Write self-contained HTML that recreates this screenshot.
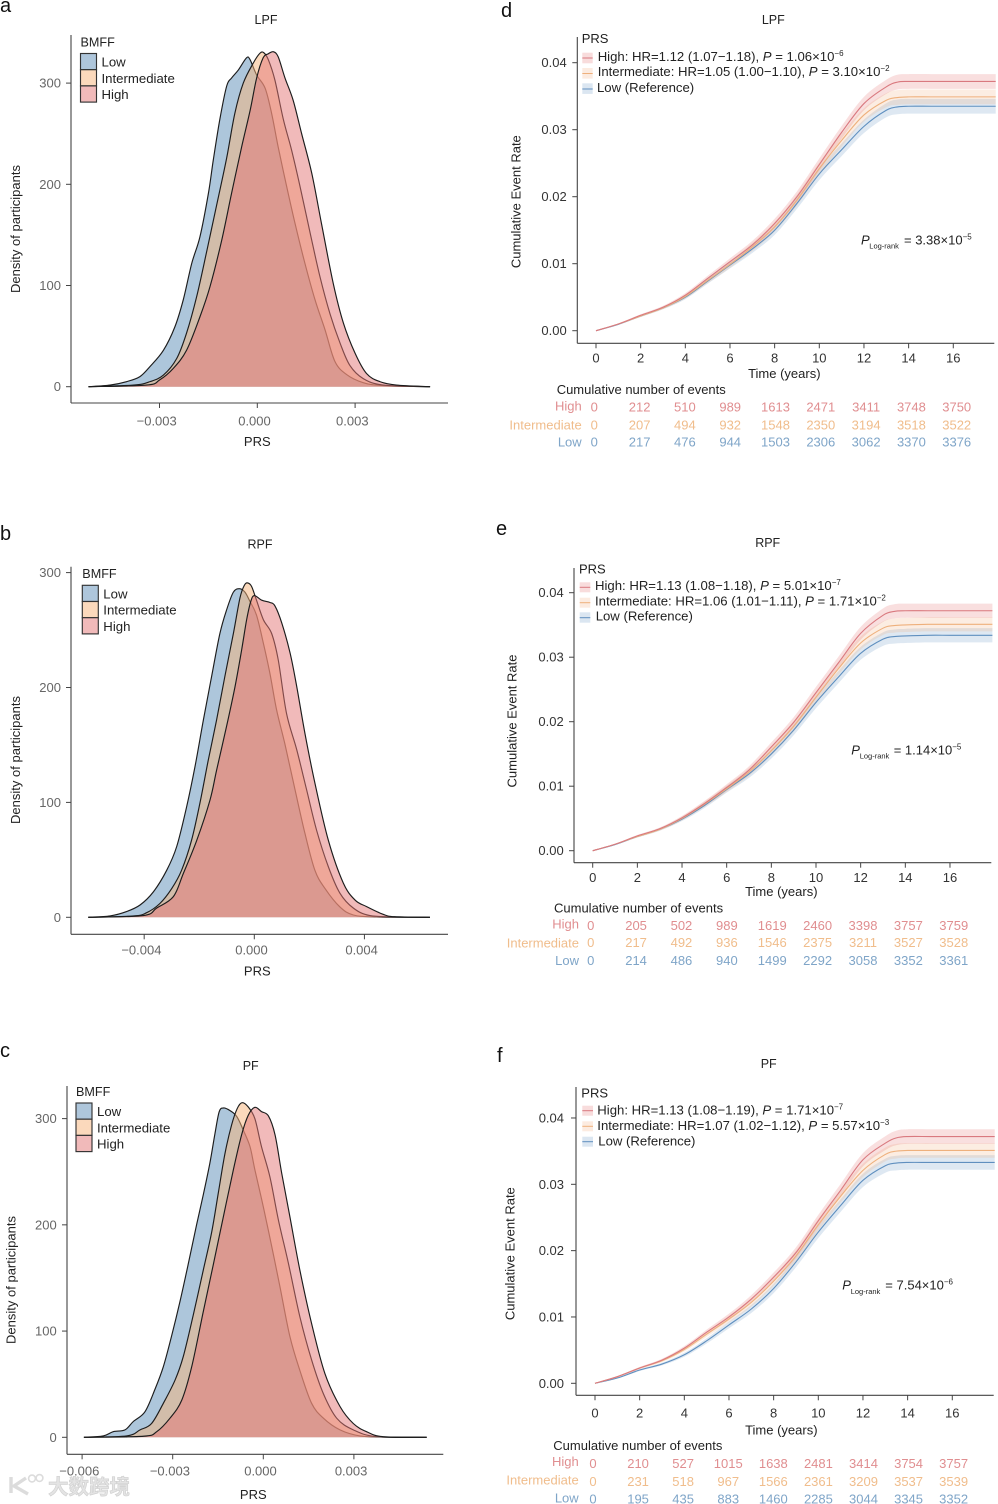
<!DOCTYPE html>
<html lang="en">
<head>
<meta charset="utf-8">
<title>PRS density and cumulative event rate</title>
<style>
html,body{margin:0;padding:0;background:#fff;width:998px;height:1504px;overflow:hidden}
svg{display:block;filter:blur(.35px)}
text{font-family:"Liberation Sans",sans-serif;font-size:13px;fill:#222}
.panel{font-size:20px;fill:#111}
.title{font-size:12.5px;text-anchor:middle}
.ax{font-size:13px}
.leg{font-size:13.15px}
.sub{font-size:7.5px}
.sup{font-size:8px}
.hi{fill:#e08e90}.in{fill:#f0bd8c}.lo{fill:#7fa5c8}
.wm{font-family:"Liberation Sans","Noto Sans CJK SC",sans-serif;font-size:20.5px;font-weight:700;fill:#e4e4e4;stroke:#d2d2d2;stroke-width:.7}
</style>
</head>
<body>
<svg id="figure" xmlns="http://www.w3.org/2000/svg" width="998" height="1504" viewBox="0 0 998 1504">
  <rect width="998" height="1504" fill="#fff"/>

  <!-- Panel a -->
  <g id="pa">
    <text class="panel" x="0" y="12">a</text>
    <text class="title" x="266" y="24">LPF</text>
    <text class="ax" transform="translate(20,229) rotate(-90)" text-anchor="middle">Density of participants</text>
    <text class="ax" x="257.3" y="446" text-anchor="middle">PRS</text>
  </g>
  <!-- Panel b -->
  <g id="pb">
    <text class="panel" x="0" y="540">b</text>
    <text class="title" x="260" y="548.7">RPF</text>
    <text class="ax" transform="translate(20,760) rotate(-90)" text-anchor="middle">Density of participants</text>
    <text class="ax" x="257.3" y="975.3" text-anchor="middle">PRS</text>
  </g>
  <!-- Panel c -->
  <g id="pc">
    <text class="panel" x="0" y="1057">c</text>
    <text class="title" x="250.7" y="1070">PF</text>
    <text class="ax" transform="translate(15.7,1280) rotate(-90)" text-anchor="middle">Density of participants</text>
    <text class="ax" x="253.3" y="1499" text-anchor="middle">PRS</text>
  </g>

  <!-- Panel d -->
  <g id="pd">
    <text class="panel" x="501" y="17">d</text>
    <text class="title" x="773.3" y="24">LPF</text>
    <text transform="translate(520.7,201.7) rotate(-90)" text-anchor="middle">Cumulative Event Rate</text>
    <text x="784.3" y="378" text-anchor="middle">Time (years)</text>
    <text x="581.7" y="43">PRS</text>
    <rect x="582.3" y="52.7" width="10.4" height="10.6" fill="#e57373" fill-opacity=".25"/>
    <line x1="582.3" x2="592.7" y1="58" y2="58" stroke="#d9797f"/>
    <rect x="582.3" y="68" width="10.4" height="10.6" fill="#f4b183" fill-opacity=".25"/>
    <line x1="582.3" x2="592.7" y1="73.5" y2="73.5" stroke="#eeb07c"/>
    <rect x="582.3" y="83.3" width="10.4" height="10.6" fill="#6f9bc8" fill-opacity=".25"/>
    <line x1="582.3" x2="592.7" y1="89" y2="89" stroke="#5f8fbf"/>
    <text class="leg" x="597.7" y="61">High: HR=1.12 (1.07−1.18), <tspan font-style="italic">P</tspan> = 1.06×10<tspan class="sup" dy="-5">−6</tspan></text>
    <text class="leg" x="597.7" y="76">Intermediate: HR=1.05 (1.00−1.10), <tspan font-style="italic">P</tspan> = 3.10×10<tspan class="sup" dy="-5">−2</tspan></text>
    <text class="leg" x="597" y="92">Low (Reference)</text>
    <text x="861" y="244.3"><tspan font-style="italic">P</tspan><tspan class="sub" x="869.3" y="248.7">Log-rank</tspan><tspan x="904" y="244.3">= 3.38×10</tspan><tspan class="sup" dy="-5">−5</tspan></text>
    <text x="556.7" y="394">Cumulative number of events</text>
    <text class="hi" x="581.7" y="410.7" text-anchor="end">High</text>
    <text class="in" x="581.7" y="429.3" text-anchor="end">Intermediate</text>
    <text class="lo" x="581.7" y="446.7" text-anchor="end">Low</text>
  </g>
  <!-- Panel e -->
  <g id="pe">
    <text class="panel" x="496" y="535">e</text>
    <text class="title" x="767.7" y="547">RPF</text>
    <text transform="translate(516.3,721) rotate(-90)" text-anchor="middle">Cumulative Event Rate</text>
    <text x="781.3" y="896" text-anchor="middle">Time (years)</text>
    <text x="579" y="573.3">PRS</text>
    <rect x="579.7" y="582.3" width="10.6" height="10" fill="#e57373" fill-opacity=".25"/>
    <line x1="579.7" x2="590.3" y1="587.3" y2="587.3" stroke="#d9797f"/>
    <rect x="579.7" y="597.7" width="10.6" height="10" fill="#f4b183" fill-opacity=".25"/>
    <line x1="579.7" x2="590.3" y1="602.7" y2="602.7" stroke="#eeb07c"/>
    <rect x="579.7" y="612.3" width="10.6" height="10.4" fill="#6f9bc8" fill-opacity=".25"/>
    <line x1="579.7" x2="590.3" y1="617.7" y2="617.7" stroke="#5f8fbf"/>
    <text class="leg" x="595" y="590">High: HR=1.13 (1.08−1.18), <tspan font-style="italic">P</tspan> = 5.01×10<tspan class="sup" dy="-5">−7</tspan></text>
    <text class="leg" x="595" y="605.3">Intermediate: HR=1.06 (1.01−1.11), <tspan font-style="italic">P</tspan> = 1.71×10<tspan class="sup" dy="-5">−2</tspan></text>
    <text class="leg" x="595.7" y="620.3">Low (Reference)</text>
    <text x="851.3" y="754.3"><tspan font-style="italic">P</tspan><tspan class="sub" x="859.7" y="758.7">Log-rank</tspan><tspan x="893.7" y="754.3">= 1.14×10</tspan><tspan class="sup" dy="-5">−5</tspan></text>
    <text x="554" y="912.7">Cumulative number of events</text>
    <text class="hi" x="579" y="928.7" text-anchor="end">High</text>
    <text class="in" x="579" y="947.7" text-anchor="end">Intermediate</text>
    <text class="lo" x="579" y="965" text-anchor="end">Low</text>
  </g>
  <!-- Panel f -->
  <g id="pf">
    <text class="panel" x="497" y="1062">f</text>
    <text class="title" x="768.7" y="1068">PF</text>
    <text transform="translate(514.7,1253.7) rotate(-90)" text-anchor="middle">Cumulative Event Rate</text>
    <text x="781.3" y="1434.7" text-anchor="middle">Time (years)</text>
    <text x="581.3" y="1097.3">PRS</text>
    <rect x="582.3" y="1105.7" width="10.7" height="10" fill="#e57373" fill-opacity=".25"/>
    <line x1="582.3" x2="593" y1="1110.7" y2="1110.7" stroke="#d9797f"/>
    <rect x="582.3" y="1121.3" width="10.7" height="10" fill="#f4b183" fill-opacity=".25"/>
    <line x1="582.3" x2="593" y1="1126.3" y2="1126.3" stroke="#eeb07c"/>
    <rect x="582.3" y="1136.7" width="10.7" height="10" fill="#6f9bc8" fill-opacity=".25"/>
    <line x1="582.3" x2="593" y1="1141.7" y2="1141.7" stroke="#5f8fbf"/>
    <text class="leg" x="597.3" y="1114.3">High: HR=1.13 (1.08−1.19), <tspan font-style="italic">P</tspan> = 1.71×10<tspan class="sup" dy="-5">−7</tspan></text>
    <text class="leg" x="597.3" y="1130">Intermediate: HR=1.07 (1.02−1.12), <tspan font-style="italic">P</tspan> = 5.57×10<tspan class="sup" dy="-5">−3</tspan></text>
    <text class="leg" x="598.3" y="1145.3">Low (Reference)</text>
    <text x="842.3" y="1289.3"><tspan font-style="italic">P</tspan><tspan class="sub" x="850.7" y="1294">Log-rank</tspan><tspan x="885.3" y="1289.3">= 7.54×10</tspan><tspan class="sup" dy="-5">−6</tspan></text>
    <text x="553.3" y="1450">Cumulative number of events</text>
    <text class="hi" x="578.7" y="1466" text-anchor="end">High</text>
    <text class="in" x="578.7" y="1484.7" text-anchor="end">Intermediate</text>
    <text class="lo" x="578.7" y="1502.7" text-anchor="end">Low</text>
  </g>

  <g id="watermark">
    <path d="M11 1477 L11 1493 M26 1478 L14 1486 L28 1494" fill="none" stroke="#dcdcdc" stroke-width="3.4"/>
    <circle cx="32" cy="1478.5" r="3.4" fill="none" stroke="#dcdcdc" stroke-width="1.6"/>
    <circle cx="39.5" cy="1478" r="3.4" fill="none" stroke="#dcdcdc" stroke-width="1.6"/>
    <text class="wm" x="48" y="1494">大数跨境</text>
  </g>
</svg>

<script>
// ---- Density charts: PRS in units of 0.001, density of participants ----
const lowPrsA=[-5.18,-4.52,-4.01,-3.6,-3.29,-2.88,-2.53,-2.27,-2.01,-1.76,-1.5,-1.35,-1.15,-0.94,-0.79,-0.58,-0.33,-0.22,-0.02,0.24,0.44,0.64,0.9,1.16,1.46,1.77,2.08,2.38,2.74,3.25,3.87,5.3];
const lowDensA=[0,1.6,5,10,20,36,59,86,122,148,191,224,264,297,305,313,325,323,308,295,270,237,198,161,122,86,56,25,12,4,1,0];
const intPrsA=[-5.18,-3.8,-3.29,-2.88,-2.47,-2.17,-1.86,-1.55,-1.25,-0.94,-0.69,-0.43,-0.12,0.08,0.2,0.34,0.54,0.8,1.05,1.31,1.62,1.92,2.23,2.54,2.84,3.25,3.87,5.3];
const intDensA=[0,1.6,5,11.5,28,53,89,134,179,226,270,300,320,329.5,330,323,303,264,234,198,152,109,72,43,21,8,1.6,0];
const highPrsA=[-5.18,-3.4,-3,-2.58,-2.17,-1.76,-1.45,-1.09,-0.79,-0.48,-0.22,-0.02,0.18,0.34,0.49,0.64,0.85,1.1,1.36,1.67,1.97,2.33,2.64,3,3.35,3.76,4.27,5.3];
const highDensA=[0,1.6,6.6,18,36,69,99,145,191,237,273,305,325,329,331,326,305,283,250,211,161,102,63,33,13,5,1.6,0];

const lowPrsB=[-6.03,-5.24,-4.64,-4.15,-3.67,-3.18,-2.82,-2.46,-2.15,-1.85,-1.55,-1.25,-1,-0.76,-0.54,-0.34,-0.16,0.08,0.33,0.57,0.81,1.11,1.48,1.84,2.2,2.57,3.11,3.6,4.44,6.38];
const lowDensB=[0,1.2,5,10.7,22,41,61.5,96,131.7,171.7,209.7,247,268,283,286,283,275,263,238.5,212,180.5,151,111,73,41,25,9,2,0.3,0];
const intPrsB=[-6.03,-4.39,-3.91,-3.43,-3,-2.64,-2.28,-1.97,-1.67,-1.37,-1.07,-0.76,-0.52,-0.36,-0.24,-0.1,0.08,0.33,0.63,0.87,1.17,1.54,1.9,2.26,2.69,3.11,3.6,4.2,5.3,6.38];
const intDensB=[0,1.2,4,12,25,41,67,100,137,171.7,209.5,247,278,289,291,288,276,259,247,224,177.5,146,111,76,44,21,8,1.5,0.3,0];
const highPrsB=[-6.03,-4.03,-3.55,-2.94,-2.58,-2.09,-1.61,-1.37,-1,-0.7,-0.46,-0.28,-0.13,0,0.27,0.57,0.75,1,1.3,1.54,1.84,2.2,2.69,3.23,3.66,4.08,4.68,5.1,6.38];
const highDensB=[0,1.5,8,18,38,67,102,128,167,200.8,232.7,258.8,274.7,280,276,274,271,256,230,201,160,117,67,30,15,9.3,2.6,0.5,0];

const lowPrsC=[-5.94,-5.3,-4.97,-4.58,-4.3,-3.92,-3.59,-3.31,-3.04,-2.76,-2.48,-2.21,-1.99,-1.77,-1.6,-1.46,-1.32,-1.1,-0.88,-0.66,-0.44,-0.28,0,0.28,0.55,0.88,1.21,1.6,1.99,2.54,3.2,3.97,5.41];
const lowDensC=[0,1.3,5.3,7,15,24,45,66.5,95,127.7,163.8,200,228,258,286,306.5,310,307.5,302,289,273.6,252,217,179.5,142,95,63,32,18,7,1.3,0.3,0];
const intPrsC=[-5.94,-4.53,-4.08,-3.7,-3.31,-2.92,-2.65,-2.32,-1.99,-1.71,-1.49,-1.27,-1.05,-0.86,-0.7,-0.5,-0.28,-0.06,0.22,0.5,0.83,1.21,1.6,1.99,2.43,2.98,3.75,5.41];
const intDensC=[0,1.3,7,13,32,54,76,115,157,193,230,267,294,309.7,315,311,300,273.6,245,204.6,164,113.6,72.8,41,18,7,0.6,0];
const highPrsC=[-5.94,-3.97,-3.53,-3.09,-2.7,-2.37,-1.99,-1.66,-1.32,-0.99,-0.72,-0.5,-0.28,-0.06,0.17,0.39,0.61,0.88,1.21,1.6,2.04,2.54,2.98,3.42,3.97,5.41];
const highDensC=[0,1,5.3,18,35,66.5,118,162,208,252,284.6,303,310.6,306.6,302.5,284.6,248.5,207.7,157.5,107,60,29,13,5.3,0.6,0];

const densityTicksA=[0,100,200,300];
const densityTicksB=[0,100,200,300];
const densityTicksC=[0,100,200,300];
const prsTicksA=[-0.003,0,0.003];
const prsTickLabelsA=["−0.003","0.000","0.003"];
const prsTicksB=[-0.004,0,0.004];
const prsTickLabelsB=["−0.004","0.000","0.004"];
const prsTicksC=[-0.006,-0.003,0,0.003];
const prsTickLabelsC=["−0.006","−0.003","0.000","0.003"];
const groupNames=["Low","Intermediate","High"];

// ---- Cumulative event rate charts ----
const timeYears=[0,1,2,3,4,5,6,7,8,9,10,11,12,13,13.5,14,15,16,17,17.9];
const ciHalfWidth=[0,.00008,.00015,.0002,.0003,.0004,.0005,.0006,.0007,.0008,.0009,.00095,.001,.00105,.0011,.0011,.0011,.0011,.0011,.0011];
const rateHighD=[0,.001,.0023,.0035,.0053,.0078,.0103,.0128,.016,.02,.0248,.0296,.0339,.0364,.0371,.0372,.0372,.0372,.0372,.0372];
const rateIntD=[0,.001,.0022,.0034,.0051,.0075,.0099,.0125,.0155,.0195,.0242,.0284,.0322,.0344,.0348,.0349,.0349,.0349,.0349,.0349];
const rateLowD=[0,.00095,.0022,.0034,.005,.0074,.0098,.0122,.015,.019,.0234,.027,.0305,.0329,.0334,.0335,.0335,.0335,.0335,.0335];
const rateHighE=[0,.001,.0023,.0034,.0051,.0073,.0098,.0125,.0161,.0199,.0245,.0291,.0337,.0365,.0371,.0372,.0372,.0372,.0372,.0372];
const rateIntE=[0,.001,.0022,.0033,.005,.0072,.0096,.0122,.0155,.0193,.0238,.0282,.0322,.0345,.0349,.035,.0351,.0351,.0351,.0351];
const rateLowE=[0,.00095,.0022,.0033,.0049,.007,.0095,.0119,.015,.0187,.023,.0269,.0306,.0328,.0332,.0333,.0334,.0334,.0334,.0334];
const rateHighF=[0,.001,.0023,.0035,.0053,.0077,.01,.0127,.016,.0197,.0245,.0291,.0337,.0362,.037,.0372,.0372,.0372,.0372,.0372];
const rateIntF=[0,.001,.0023,.0034,.0051,.0074,.0097,.0122,.0154,.0192,.0239,.0282,.0321,.0345,.035,.0351,.0351,.0351,.0351,.0351];
const rateLowF=[0,.0008,.002,.0029,.0043,.0064,.0088,.0112,.0143,.0183,.0228,.0268,.0306,.0328,.0332,.0333,.0333,.0333,.0333,.0333];
const rateTicks=[0,.01,.02,.03,.04];
const rateTickLabels=["0.00","0.01","0.02","0.03","0.04"];
const timeTicks=[0,2,4,6,8,10,12,14,16];
const timeTickLabels=["0","2","4","6","8","10","12","14","16"];
const eventsHighD=[0,212,510,989,1613,2471,3411,3748,3750];
const eventsIntD=[0,207,494,932,1548,2350,3194,3518,3522];
const eventsLowD=[0,217,476,944,1503,2306,3062,3370,3376];
const eventsHighE=[0,205,502,989,1619,2460,3398,3757,3759];
const eventsIntE=[0,217,492,936,1546,2375,3211,3527,3528];
const eventsLowE=[0,214,486,940,1499,2292,3058,3352,3361];
const eventsHighF=[0,210,527,1015,1638,2481,3414,3754,3757];
const eventsIntF=[0,231,518,967,1566,2361,3209,3537,3539];
const eventsLowF=[0,195,435,883,1460,2285,3044,3345,3352];

const NS="http://www.w3.org/2000/svg";
function mk(parent,tag,attrs,name,txt){
  const el=document.createElementNS(NS,tag);
  for(const k in attrs)el.setAttribute(k,attrs[k]);
  
  
  if(txt!==undefined)el.textContent=txt;
  parent.appendChild(el);
  return el;
}
function smooth(pts){
  let d="M"+pts[0][0].toFixed(2)+" "+pts[0][1].toFixed(2);
  for(let i=0;i<pts.length-1;i++){
    const p0=pts[i-1]||pts[i],p1=pts[i],p2=pts[i+1],p3=pts[i+2]||p2;
    const c1x=p1[0]+(p2[0]-p0[0])/6,c1y=p1[1]+(p2[1]-p0[1])/6;
    const c2x=p2[0]-(p3[0]-p1[0])/6,c2y=p2[1]-(p3[1]-p1[1])/6;
    d+="C"+c1x.toFixed(2)+" "+c1y.toFixed(2)+" "+c2x.toFixed(2)+" "+c2y.toFixed(2)+" "+p2[0].toFixed(2)+" "+p2[1].toFixed(2);
  }
  return d;
}
function axes(g,o,xt,xl,yt,yl,yScale,xScale,grey,tl,labelShift){
  mk(g,"line",{x1:o.axisX,x2:o.axisX,y1:o.top,y2:o.bottom,stroke:"#444","stroke-width":1.1},"y-axis-line");
  mk(g,"line",{x1:o.axisX,x2:o.right,y1:o.bottom,y2:o.bottom,stroke:"#444","stroke-width":1.1},"x-axis-line");
  yt.forEach((v,i)=>{
    const y=yScale(v);
    mk(g,"line",{x1:o.axisX-tl,x2:o.axisX,y1:y,y2:y,stroke:"#444","stroke-width":1},"y-tick");
    mk(g,"text",{x:o.yLabelRight,y:y+4.5,"text-anchor":"end",style:"fill:"+grey},"y-tick-label",yl[i]);
  });
  xt.forEach((v,i)=>{
    const x=xScale(v);
    mk(g,"line",{x1:x,x2:x,y1:o.bottom,y2:o.bottom+tl,stroke:"#444","stroke-width":1},"x-tick");
    mk(g,"text",{x:x+labelShift,y:o.xLabelBase,"text-anchor":"middle",style:"fill:"+grey},"x-tick-label",xl[i]);
  });
}
const densityFill=["#5b8db8","#f7b379","#e37575"];
const densityKey=["#aec6db","#fbd9bc","#f1baba"];
function drawDensity(id,o,series,xt,xl,yt){
  const g=document.getElementById(id);
  const xScale=v=>o.x0+v*1000*o.pxPerMilli;
  const yScale=v=>o.y0-v*o.pxPerUnit;
  axes(g,o,xt,xl,yt,yt.map(String),yScale,xScale,"#666",5,-2.8);
  series.forEach((s,i)=>{
    const pts=s[0].map((p,j)=>[xScale(p/1000),yScale(s[1][j])]);
    const line=smooth(pts);
    const nm=groupNames[i].toLowerCase();
    mk(g,"path",{d:line+"L"+pts[pts.length-1][0].toFixed(2)+" "+o.y0+"L"+pts[0][0].toFixed(2)+" "+o.y0+"Z",fill:densityFill[i],"fill-opacity":.5,stroke:"none"},"density-area-"+nm);
    mk(g,"path",{d:line,fill:"none",stroke:"#1c1c1c","stroke-width":1.15},"density-line-"+nm);
  });
  mk(g,"text",{x:o.legX,y:o.legY-7.2,style:"font-size:12.6px"},"legend-title","BMFF");
  groupNames.forEach((n,i)=>{
    const y=o.legY+i*16.2;
    mk(g,"rect",{x:o.legX,y:y,width:16,height:16.2,fill:densityKey[i],stroke:"#333","stroke-width":1.15},"legend-key-"+n.toLowerCase());
    mk(g,"text",{x:o.legX+21,y:y+13.2,style:"font-size:13.2px"},"legend-entry-"+n.toLowerCase(),n);
  });
}
const kmLine=["#d9797f","#eeb07c","#5f8fbf"];
const kmBand=["#e57373","#f4b183","#6f9bc8"];
const kmText=["#e08e90","#f0bd8c","#7fa5c8"];
function drawKM(id,o,rates,tables){
  const g=document.getElementById(id);
  const xScale=v=>o.x0+v*22.33;
  const yScale=v=>o.y0-v*100*o.pxPerCenti;
  axes(g,o,timeTicks,timeTickLabels,rateTicks,rateTickLabels,yScale,xScale,"#333",5,0);
  const names=["high","intermediate","low"];
  [2,1,0].forEach(i=>{
    const r=rates[i];
    const up=timeYears.map((t,j)=>[xScale(t),yScale(r[j]+ciHalfWidth[j])]);
    const dn=timeYears.map((t,j)=>[xScale(t),yScale(r[j]-ciHalfWidth[j])]).reverse();
    mk(g,"path",{d:smooth(up)+"L"+smooth(dn).slice(1)+"Z",fill:kmBand[i],"fill-opacity":.23,stroke:"none"},"confidence-band-"+names[i]);
  });
  [2,1,0].forEach(i=>{
    const r=rates[i];
    mk(g,"path",{d:smooth(timeYears.map((t,j)=>[xScale(t),yScale(r[j])])),fill:"none",stroke:kmLine[i],"stroke-width":1.1},"survival-line-"+names[i]);
  });
  tables.forEach((row,i)=>{
    row.forEach((v,j)=>{
      mk(g,"text",{x:o.tableX0+timeTicks[j]*o.tableStep,y:o.rowBase[i],"text-anchor":"middle",style:"fill:"+kmText[i]},"event-count-"+names[i],String(v));
    });
  });
}

drawDensity("pa",{x0:257.3,pxPerMilli:32.6,y0:386.7,pxPerUnit:1.012,axisX:71,top:35,bottom:403,right:448,yLabelRight:61,xLabelBase:425.7,legX:80.5,legY:53.5},
  [[lowPrsA,lowDensA],[intPrsA,intDensA],[highPrsA,highDensA]],prsTicksA,prsTickLabelsA,densityTicksA);
drawDensity("pb",{x0:254.3,pxPerMilli:27.53,y0:917.3,pxPerUnit:1.149,axisX:71,top:566.7,bottom:934.3,right:448,yLabelRight:61,xLabelBase:954.7,legX:82.3,legY:585.3},
  [[lowPrsB,lowDensB],[intPrsB,intDensB],[highPrsB,highDensB]],prsTicksB,prsTickLabelsB,densityTicksB);
drawDensity("pc",{x0:263.3,pxPerMilli:30.2,y0:1437.3,pxPerUnit:1.0623,axisX:67,top:1086,bottom:1454.3,right:443.3,yLabelRight:56.7,xLabelBase:1475.3,legX:76,legY:1103},
  [[lowPrsC,lowDensC],[intPrsC,intDensC],[highPrsC,highDensC]],prsTicksC,prsTickLabelsC,densityTicksC);

drawKM("pd",{x0:596,y0:330.7,pxPerCenti:67,axisX:577.3,top:37,bottom:343.3,right:994.3,yLabelRight:566.7,xLabelBase:362.7,tableX0:594.3,tableStep:22.65,rowBase:[411.7,429.3,446.7]},
  [rateHighD,rateIntD,rateLowD],[eventsHighD,eventsIntD,eventsLowD]);
drawKM("pe",{x0:592.7,y0:850.7,pxPerCenti:64.5,axisX:574,top:568,bottom:862.7,right:991.3,yLabelRight:563.7,xLabelBase:882,tableX0:590.7,tableStep:22.69,rowBase:[930,947,965]},
  [rateHighE,rateIntE,rateLowE],[eventsHighE,eventsIntE,eventsLowE]);
drawKM("pf",{x0:595,y0:1383.3,pxPerCenti:66.33,axisX:576,top:1087,bottom:1395.3,right:993.7,yLabelRight:564,xLabelBase:1417.3,tableX0:593,tableStep:22.54,rowBase:[1468,1486,1503.3]},
  [rateHighF,rateIntF,rateLowF],[eventsHighF,eventsIntF,eventsLowF]);

// keep the watermark on top of axis labels
const svgRoot=document.getElementById("figure");
svgRoot.appendChild(document.getElementById("watermark"));
</script>
</body>
</html>
